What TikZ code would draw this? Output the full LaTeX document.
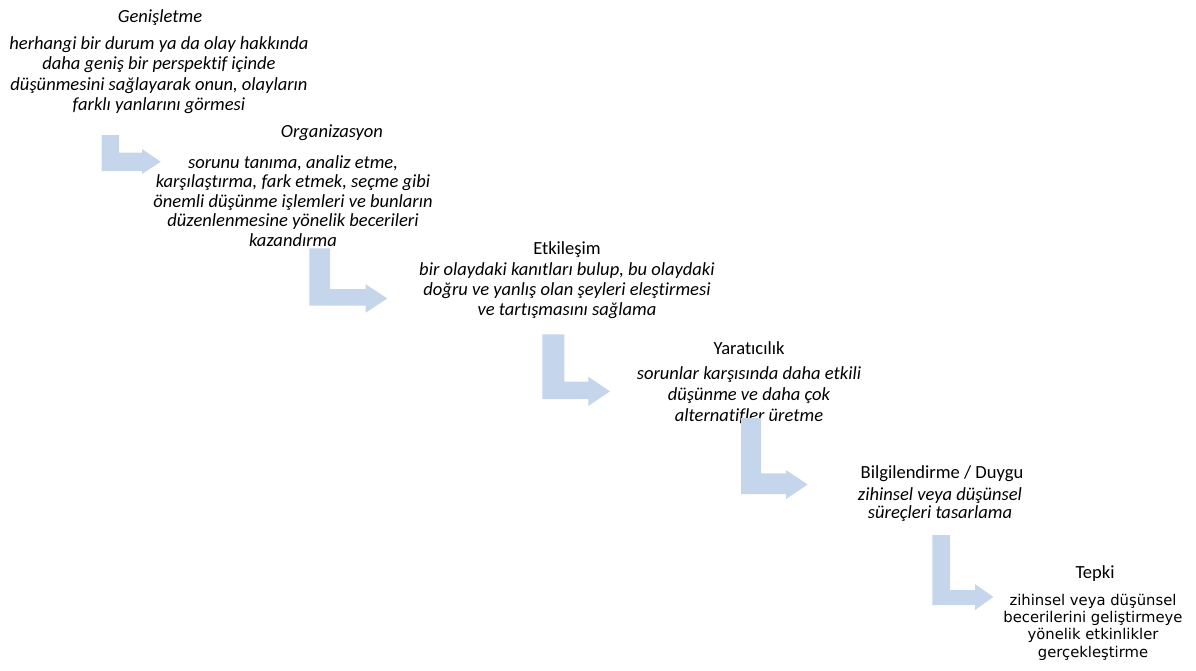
\documentclass[tikz,border=0pt]{standalone}
\usepackage{fontspec}
\setmainfont{Carlito}[Ligatures={NoCommon}]
\newfontfamily\comicfont{DejaVu Sans}
\definecolor{arrowblue}{RGB}{197,213,235}
\tikzset{
  bentarrow/.style={fill=arrowblue, draw=none},
  ttl/.style={anchor=north, inner sep=0pt, font=\fontsize{13.9}{16}\selectfont},
  ittl/.style={ttl, font=\fontsize{13.9}{16}\selectfont\itshape},
  body/.style={anchor=north, inner sep=0pt, align=center},
}
\begin{document}
\begin{tikzpicture}[x=0.75pt,y=-0.75pt]
\useasboundingbox (0,0) rectangle (1196,671);
% block 1
\node[ittl] (t1) at (160,9) {Genişletme};
\node[body, font=\fontsize{13.9}{15.4}\selectfont\itshape] (b1) at (159,36)
  {herhangi bir durum ya da olay hakkında\\daha geniş bir perspektif içinde\\düşünmesini sağlayarak onun, olayların\\farklı yanlarını görmesi};
% block 2
\node[ittl] (t2) at (332,124) {Organizasyon};
\node[body, font=\fontsize{13.9}{14.6}\selectfont\itshape] (b2) at (293,155)
  {sorunu tanıma, analiz etme,\\karşılaştırma, fark etmek, seçme gibi\\önemli düşünme işlemleri ve bunların\\düzenlenmesine yönelik becerileri\\kazandırma};
% block 3
\node[ttl] (t3) at (567,241) {Etkileşim};
\node[body, font=\fontsize{13.9}{15}\selectfont\itshape] (b3) at (567,262)
  {bir olaydaki kanıtları bulup, bu olaydaki\\doğru ve yanlış olan şeyleri eleştirmesi\\ve tartışmasını sağlama};
% block 4
\node[ttl] (t4) at (749,341) {Yaratıcılık};
\node[body, font=\fontsize{13.9}{16}\selectfont\itshape] (b4) at (749,366)
  {sorunlar karşısında daha etkili\\düşünme ve daha çok\\alternatifler üretme};
% block 5
\node[ttl] (t5) at (942,465) {Bilgilendirme / Duygu};
\node[body, font=\fontsize{13.9}{13.7}\selectfont\itshape] (b5) at (940,487)
  {zihinsel veya düşünsel\\süreçleri tasarlama};
% block 6
\node[ttl] (t6) at (1095,565) {Tepki};
\node[body, font=\comicfont\fontsize{11.1}{12.9}\selectfont] (b6) at (1093,594)
  {zihinsel veya düşünsel\\becerilerini geliştirmeye\\yönelik etkinlikler\\gerçekleştirme};
% arrows
\fill[bentarrow] (101.7,135) -- (119,135) -- (119,152.7) -- (142,152.7) -- (142,149) -- (160.7,161.7) -- (142,174) -- (142,171) -- (101.7,171) -- cycle;
\fill[bentarrow] (309.3,248.3) -- (330,248.3) -- (330,289) -- (365.7,289) -- (365.7,284.3) -- (387.3,298.5) -- (365.7,312.7) -- (365.7,305.7) -- (309.3,305.7) -- cycle;
\fill[bentarrow] (542.3,334.3) -- (564.3,334.3) -- (564.3,381.7) -- (588.3,381.7) -- (588.3,376.7) -- (610,391.3) -- (588.3,406) -- (588.3,399) -- (542.3,399) -- cycle;
\fill[bentarrow] (741,418) -- (761,418) -- (761,473.3) -- (786,473.3) -- (786,470) -- (807.7,484.5) -- (786,499) -- (786,494) -- (741,494) -- cycle;
\fill[bentarrow] (932.3,535) -- (950,535) -- (950,590) -- (975,590) -- (975,584) -- (993.3,597) -- (975,610) -- (975,605) -- (932.3,605) -- cycle;
\end{tikzpicture}
\end{document}
